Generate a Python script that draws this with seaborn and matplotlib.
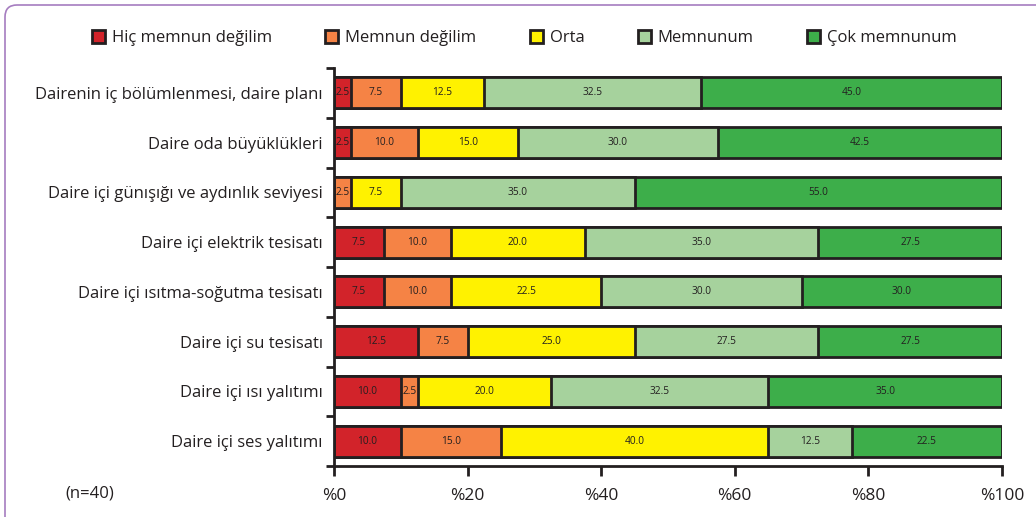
import matplotlib
matplotlib.use("Agg")
import matplotlib.pyplot as plt
from matplotlib.patches import Patch, FancyBboxPatch
import numpy as np
import pandas as pd
import seaborn as sns

categories = [
    "Dairenin iç bölümlenmesi, daire planı",
    "Daire oda büyüklükleri",
    "Daire içi günışığı ve aydınlık seviyesi",
    "Daire içi elektrik tesisatı",
    "Daire içi ısıtma-soğutma tesisatı",
    "Daire içi su tesisatı",
    "Daire içi ısı yalıtımı",
    "Daire içi ses yalıtımı",
]
levels = ["Hiç memnun değilim", "Memnun değilim", "Orta", "Memnunum", "Çok memnunum"]
hic_memnun_degilim = [2.5, 2.5, 0.0, 7.5, 7.5, 12.5, 10.0, 10.0]
memnun_degilim = [7.5, 10.0, 2.5, 10.0, 10.0, 7.5, 2.5, 15.0]
orta = [12.5, 15.0, 7.5, 20.0, 22.5, 25.0, 20.0, 40.0]
memnunum = [32.5, 30.0, 35.0, 35.0, 30.0, 27.5, 32.5, 12.5]
cok_memnunum = [45.0, 42.5, 55.0, 27.5, 30.0, 27.5, 35.0, 22.5]
x_ticks = [0, 20, 40, 60, 80, 100]
x_tick_labels = ["%0", "%20", "%40", "%60", "%80", "%100"]
sample_note = "(n=40)"

colors = ["#D2232A", "#F58345", "#FFF200", "#A6D29D", "#3DAE4A"]
edge = "#231F20"
text_col = "#231F20"

sns.set_theme(style="white")
plt.rcParams["font.family"] = ["Open Sans", "DejaVu Sans"]

series = [hic_memnun_degilim, memnun_degilim, orta, memnunum, cok_memnunum]
df = pd.DataFrame({lvl: vals for lvl, vals in zip(levels, series)})
df["Kategori"] = categories
cum = df[levels].cumsum(axis=1)

fig = plt.figure(figsize=(10.36, 5.17), dpi=100)
ax = fig.add_axes([334 / 1036, 1 - 466 / 517, (1002 - 334) / 1036, (466 - 68) / 517])

# Stacked bars: draw cumulative totals from the widest layer to the narrowest
for lvl, col in reversed(list(zip(levels, colors))):
    sns.barplot(x=cum[lvl], y=df["Kategori"], orient="h", color=col,
                edgecolor=edge, linewidth=2, width=0.62, ax=ax, saturation=1)

# Segment value labels
for i in range(len(categories)):
    left = 0.0
    for lvl in levels:
        v = df.loc[i, lvl]
        if v > 0:
            ax.text(left + v / 2, i, f"{v:.1f}", ha="center", va="center",
                    fontsize=7.3, color=text_col)
        left += v

ax.set_xlim(0, 100)
ax.set_ylim(len(categories) - 0.5, -0.5)
ax.set_xticks(x_ticks)
ax.set_xticklabels(x_tick_labels, fontsize=12.5, color=text_col)
ax.set_xlabel("")
ax.set_ylabel("")
ax.tick_params(axis="y", which="major", length=0, pad=8, labelsize=12, labelcolor=text_col)
ax.set_yticks(np.arange(-0.5, len(categories), 1), minor=True)
ax.tick_params(axis="y", which="minor", length=6, width=2, color=edge, left=True)
ax.tick_params(axis="x", which="major", length=7, width=2, color=edge, bottom=True, pad=9)
for s in ["top", "right"]:
    ax.spines[s].set_visible(False)
for s in ["left", "bottom"]:
    ax.spines[s].set_color(edge)
    ax.spines[s].set_linewidth(2)
ax.grid(False)

handles = [Patch(facecolor=c, edgecolor=edge, linewidth=2) for c in colors]
fig.legend(handles, levels, loc="center", bbox_to_anchor=(0.506, 1 - 38 / 517),
           ncol=5, frameon=False, fontsize=12, labelcolor=text_col,
           handlelength=0.8, handleheight=0.8,
           handletextpad=0.4, columnspacing=3.2)

fig.text(65 / 1036, 1 - 493 / 517, sample_note, fontsize=12, color=text_col,
         ha="left", va="center")

# Rounded frame around the figure
frame = FancyBboxPatch((0.05, -0.5), 11.0, 5.17 - 0.05 + 0.5,
                       boxstyle="round,pad=0,rounding_size=0.12",
                       transform=fig.dpi_scale_trans, facecolor="none",
                       edgecolor="#A67DC0", linewidth=1.2, clip_on=False)
fig.patches.append(frame)

fig.savefig("out.png", dpi=100)
